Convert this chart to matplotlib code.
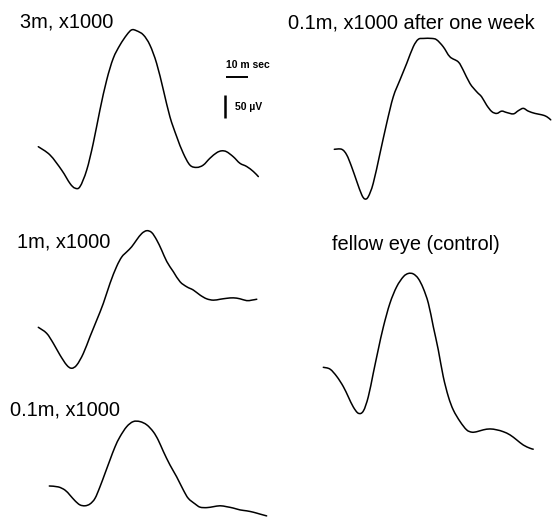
import numpy as np
import matplotlib
matplotlib.use("Agg")
import matplotlib.pyplot as plt
from matplotlib.path import Path
from matplotlib.patches import PathPatch

plt.rcParams['font.family'] = ['Liberation Sans', 'DejaVu Sans']

# traces: time (ms) and amplitude (uV), relative to the first sample
t_3m = [0, 5.2, 10.4, 14.1, 16.3, 18.5, 21.5, 24.4, 27.4, 30.4, 33.3, 36.3, 39.3, 41.5, 43.7,
        46.7, 49.6, 52.6, 55.6, 58.5, 61.5, 64.4, 67.4, 70.4, 73.3, 76.3, 79.3, 81.5, 83.7,
        86.7, 89.6, 92.6, 95.6, 97.8]
v_3m = [0, -18, -51, -80, -90, -87, -51, 7, 80, 145, 192, 221, 243, 254, 252,
        243, 221, 181, 123, 65, 22, -14, -40, -45, -40, -25, -13, -9, -11,
        -22, -36, -43, -54, -65]

t_week = [0, 3.3, 5.5, 7.7, 10.0, 12.2, 13.6, 15.1, 17.3, 20.3, 23.3, 26.2, 29.2, 32.2, 35.1,
          37.3, 39.6, 43.3, 45.5, 48.4, 51.4, 55.1, 57.3, 60.3, 63.3, 65.5, 67.7, 70.0, 72.2,
          74.4, 76.6, 79.6, 81.8, 84.0, 86.2, 89.2, 92.2, 94.4, 96.2]
v_week = [0, 0, -12, -38, -70, -99, -108, -103, -74, -9, 57, 114, 151, 187, 223,
          239, 241, 241, 238, 223, 201, 190, 172, 143, 125, 114, 96, 82, 78,
          83, 80, 77, 84, 89, 83, 78, 75, 71, 64]

t_1m = [0, 3.7, 6.7, 9.6, 12.6, 14.8, 17.1, 20.0, 23.0, 26.0, 28.9, 31.9, 34.8, 37.1, 39.3,
        41.5, 43.7, 46.0, 48.2, 50.4, 52.6, 54.8, 57.1, 60.0, 63.0, 66.0, 68.9, 71.9, 74.8,
        77.8, 80.8, 83.7, 86.7, 89.6, 92.6, 94.8, 97.1]
v_1m = [0, -13, -35, -60, -82, -89, -82, -57, -20, 16, 52, 96, 132, 153, 164,
        175, 190, 204, 210, 206, 190, 168, 143, 121, 99, 88, 81, 70, 62,
        59, 61, 63, 64, 62, 58, 59, 61]

t_01m = [0, 4.0, 7.0, 9.2, 11.4, 13.6, 15.9, 18.1, 20.3, 22.5, 24.8, 27.0, 29.2, 31.4, 34.4,
         37.3, 40.3, 43.3, 46.2, 48.4, 50.7, 53.6, 56.6, 59.6, 61.8, 64.8, 67.0, 70.0, 72.9,
         75.9, 78.8, 81.8, 84.8, 87.7, 90.7, 93.6, 96.6]
v_01m = [0, -2, -9, -20, -32, -41, -43, -39, -27, -2, 28, 57, 85, 107, 129,
         140, 140, 133, 118, 100, 75, 46, 20, -9, -27, -39, -46, -47, -45,
         -43, -45, -48, -52, -54, -57, -61, -65]

t_fellow = [0, 3.0, 6.0, 8.9, 11.1, 13.3, 15.6, 17.8, 20.0, 22.2, 24.4, 26.7, 29.6, 32.6, 35.6,
            37.8, 40.0, 42.2, 44.4, 46.7, 48.9, 51.1, 53.3, 55.6, 57.8, 60.8, 63.7, 66.0, 68.2,
            71.1, 74.1, 77.1, 80.0, 83.0, 86.0, 88.9, 91.9, 93.3]
v_fellow = [0, -4, -20, -42, -64, -86, -100, -95, -64, -13, 38, 88, 139, 175, 197,
            204, 203, 193, 172, 139, 88, 38, -20, -64, -93, -118, -136, -141, -140,
            -136, -134, -136, -140, -147, -158, -169, -176, -178]

labels = ["3m, x1000", "0.1m, x1000 after one week", "1m, x1000",
          "0.1m, x1000", "fellow eye (control)"]
scale_ms = 10
scale_uv = 50

# layout (pixels on the 552x517 canvas)
W, H = 552, 517
PX_PER_MS = 2.25
PX_PER_UV = 0.46
trace_origin = [(38.3, 146.7), (334.3, 149.3), (38.3, 327.3), (49.3, 486.0), (323.3, 367.3)]
label_pos = [(20, 27.5), (288.5, 29), (17, 248), (10, 415), (332, 250)]

fig = plt.figure(figsize=(W / 100, H / 100), dpi=100)
ax = fig.add_axes([0, 0, 1, 1])
ax.set_xlim(0, W / PX_PER_MS)
ax.set_ylim(0, H / PX_PER_UV)
ax.axis('off')


def px(x, y):
    return x / PX_PER_MS, (H - y) / PX_PER_UV


def smooth_path(x, y):
    # cubic bezier segments through the samples (catmull-rom tangents)
    p = np.column_stack([x, y])
    ext = np.vstack([p[0], p, p[-1]])
    verts = [p[0]]
    codes = [Path.MOVETO]
    for i in range(len(p) - 1):
        p0, p1, p2, p3 = ext[i], ext[i + 1], ext[i + 2], ext[i + 3]
        verts += [p1 + (p2 - p0) / 6, p2 - (p3 - p1) / 6, p2]
        codes += [Path.CURVE4] * 3
    return Path(verts, codes)


traces = [(t_3m, v_3m), (t_week, v_week), (t_1m, v_1m), (t_01m, v_01m), (t_fellow, v_fellow)]
for (t, v), (ox, oy), lab, (lx, ly) in zip(traces, trace_origin, labels, label_pos):
    x0, y0 = px(ox, oy)
    path = smooth_path(np.array(t) + x0, np.array(v) + y0)
    ax.add_patch(PathPatch(path, facecolor='none', edgecolor='black', lw=1.1,
                           joinstyle='round', capstyle='round'))
    tx, ty = px(lx, ly)
    ax.text(tx, ty, lab, fontsize=14.4, ha='left', va='baseline', color='black')

# scale bars
bx, by = px(225.7, 76.7)
ax.plot([bx, bx + scale_ms], [by, by], color='black', lw=1.4, solid_capstyle='butt')
vx, vy = px(225.0, 118.0)
ax.plot([vx, vx], [vy, vy + scale_uv], color='black', lw=1.8, solid_capstyle='butt')
sx, sy = px(225.5, 68)
ax.text(sx, sy, "10 m sec", fontsize=7.5, fontweight='bold', ha='left', va='baseline')
ux, uy = px(235, 110)
ax.text(ux, uy, "50 µV", fontsize=7.5, fontweight='bold', ha='left', va='baseline')

fig.savefig('out.png', dpi=100, facecolor='white')
